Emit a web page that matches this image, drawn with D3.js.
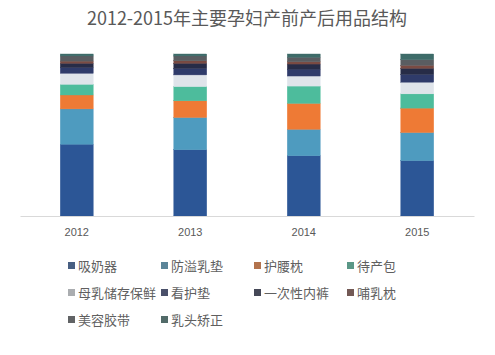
<!DOCTYPE html>
<html><head><meta charset="utf-8">
<script src="https://cdn.jsdelivr.net/npm/d3@7"></script>
<style>body{margin:0;background:#fff;}svg{display:block;font-family:"Noto Sans CJK SC","Noto Sans",sans-serif;}</style>
</head><body><svg id="c" width="495" height="355"></svg>
<script>
const title = "2012-2015年主要孕妇产前产后用品结构";
const years = ["2012","2013","2014","2015"];
const seriesNames = ["吸奶器","防溢乳垫","护腰枕","待产包","母乳储存保鲜","看护垫","一次性内裤","哺乳枕","美容胶带","乳头矫正"];
// percentage share per year (bottom to top)
const s_xinaiqi   = [44.3, 40.9, 37.2, 34.2];
const s_fangyi    = [21.8, 19.9, 16.3, 17.3];
const s_huyao     = [ 8.6, 10.3, 16.0, 15.1];
const s_daichan   = [ 6.6,  8.8, 10.7,  8.8];
const s_muru      = [ 6.8,  7.2,  6.2,  7.2];
const s_kanhu     = [ 3.5,  4.0,  4.2,  4.8];
const s_neiku     = [ 2.7,  3.2,  3.2,  3.8];
const s_buru      = [ 1.3,  1.5,  1.4,  1.8];
const s_meirong   = [ 3.2,  3.0,  2.8,  3.5];
const s_jiaozheng = [ 1.2,  1.2,  2.0,  3.5];
const seriesValues = [s_xinaiqi,s_fangyi,s_huyao,s_daichan,s_muru,s_kanhu,s_neiku,s_buru,s_meirong,s_jiaozheng];
const colors = ["#2c5696","#4e9bbf","#ee7a35","#4dbc9c","#dfe4ea","#2f3b6a","#272c47","#7a4b43","#5a5d61","#3e6c69"];

const rows = years.map((y,i)=>{const o={year:y};seriesNames.forEach((n,j)=>o[n]=seriesValues[j][i]);return o;});
const stack = d3.stack().keys(seriesNames)(rows);

const svg = d3.select("#c");
const x = d3.scaleBand().domain(years).range([20,474]).paddingInner(0.71).paddingOuter(0.355);
const y = d3.scaleLinear().domain([0,100]).range([216,54]);

svg.append("text").attr("x",247).attr("y",25).attr("text-anchor","middle")
  .attr("font-size",18).attr("fill","#595959").text(title);

svg.append("g").selectAll("g").data(stack).join("g")
  .attr("fill",(d,i)=>colors[i]).attr("stroke",(d,i)=>colors[i]).attr("stroke-width",0.4)
  .selectAll("rect").data(d=>d).join("rect")
  .attr("x",d=>x(d.data.year)).attr("width",x.bandwidth())
  .attr("y",d=>y(d[1])).attr("height",d=>y(d[0])-y(d[1]));

const ax = svg.append("g").attr("transform","translate(0,216)")
  .call(d3.axisBottom(x).tickSize(0).tickPadding(12));
ax.select(".domain").attr("stroke","#d9d9d9");
ax.selectAll("text").attr("font-size",11).attr("fill","#595959")
  .attr("font-family","Liberation Sans, Arial, sans-serif");

const colX = [68,161,254,347];
const rowY = [266,293,320];
const lg = svg.append("g").selectAll("g").data(seriesNames).join("g")
  .attr("transform",(d,i)=>`translate(${colX[i%4]},${rowY[Math.floor(i/4)]})`);
lg.append("rect").attr("x",0).attr("y",-4).attr("width",7).attr("height",7)
  .attr("fill",(d,i)=>d3.interpolateRgb(colors[i],"#6a6a6a")(0.45));
lg.append("text").attr("x",10).attr("y",0).attr("dy","0.35em").attr("font-size",13)
  .attr("fill","#5f5f5f").text(d=>d);
</script></body></html>
